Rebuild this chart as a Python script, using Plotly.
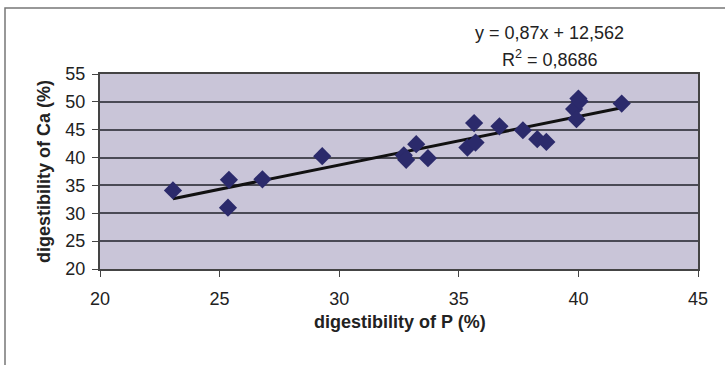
import plotly.graph_objects as go

# Data
p_digest = [23.05, 25.39, 25.35, 26.79, 29.29, 32.7, 32.8, 33.22, 33.71, 35.36, 35.64,
            35.70, 36.7, 37.68, 38.28, 38.66, 39.82, 40.0, 40.05, 39.92, 41.81]
ca_digest = [34.1, 36.0, 31.0, 36.1, 40.25, 40.4, 39.6, 42.4, 39.9, 41.8, 46.2,
             42.7, 45.6, 44.9, 43.3, 42.8, 48.7, 50.6, 50.1, 46.9, 49.7]

slope = 0.87
intercept = 12.562
trend_x = [min(p_digest), max(p_digest)]
trend_y = [slope * v + intercept for v in trend_x]

x_ticks = [20, 25, 30, 35, 40, 45]
y_ticks = [20, 25, 30, 35, 40, 45, 50, 55]

W, H = 725, 365
L, R, T, B = 100, 698, 74, 269


def px(x):
    return (x - L) / (R - L)


def py(y):
    return (B - y) / (B - T)


fig = go.Figure()
fig.add_trace(go.Scatter(x=trend_x, y=trend_y, mode="lines",
                         line=dict(color="#111111", width=3), showlegend=False))
fig.add_trace(go.Scatter(x=p_digest, y=ca_digest, mode="markers",
                         marker=dict(symbol="diamond", size=14, color="#2b2a6b"),
                         showlegend=False))

font_family = "Liberation Sans, Arial, sans-serif"


def label(text, x, y, angle=0):
    return dict(xref="paper", yref="paper", x=px(x), y=py(y), text=text,
                showarrow=False, xanchor="center", yanchor="middle",
                textangle=angle, font=dict(size=18, color="#222"))


fig.update_layout(
    width=W, height=H,
    margin=dict(l=L, r=W - R, t=T, b=H - B),
    paper_bgcolor="white",
    plot_bgcolor="#c9c5d8",
    font=dict(family=font_family, color="#222222"),
    xaxis=dict(range=[20, 45], tickvals=x_ticks, showgrid=False, zeroline=False,
               automargin=False, ticks="outside", ticklen=6, tickcolor="#444",
               showline=True, linecolor="#444", linewidth=2, mirror=True,
               ticklabelstandoff=6, tickfont=dict(size=18, color="#222")),
    yaxis=dict(range=[20, 55], tickvals=y_ticks, showgrid=True, gridcolor="#4a4a55",
               gridwidth=2, zeroline=False, automargin=False, ticks="outside",
               ticklen=6, tickcolor="#444", showline=True, linecolor="#444",
               linewidth=2, mirror=True, ticklabelstandoff=3,
               tickfont=dict(size=18, color="#222")),
    shapes=[dict(type="rect", xref="paper", yref="paper",
                 x0=px(5), x1=px(740), y0=py(380), y1=py(8),
                 line=dict(color="#777", width=1.5), fillcolor="rgba(0,0,0,0)",
                 layer="below")],
    annotations=[
        label("y = 0,87x + 12,562", 549, 33),
        label("R<sup>2</sup> = 0,8686", 550, 58),
        label("<b>digestibility of P (%)</b>", 400, 322),
        label("<b>digestibility of Ca (%)</b>", 44, 172, -90),
    ],
)

fig.write_html("out.html",
               config={"displayModeBar": False},
               post_script="document.body.style.margin='0px';"
                           "document.body.style.overflow='hidden';")
